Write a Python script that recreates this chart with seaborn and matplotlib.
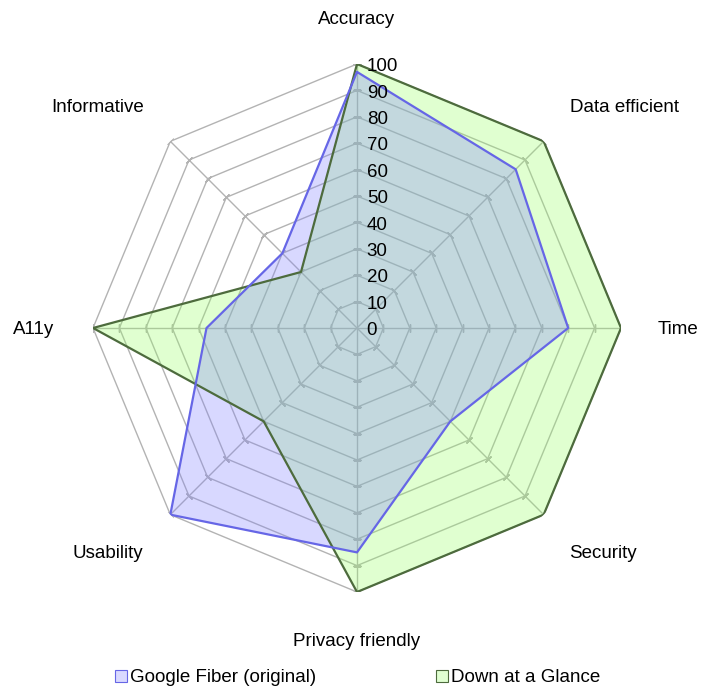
import numpy as np
import matplotlib
matplotlib.use("Agg")
import matplotlib.pyplot as plt
import seaborn as sns
from matplotlib.patches import Patch

sns.set_theme(style="white")
plt.rcParams['font.family'] = ['Liberation Sans', 'DejaVu Sans']

categories = ['Accuracy', 'Data efficient', 'Time', 'Security',
              'Privacy friendly', 'Usability', 'A11y', 'Informative']
google_fiber = [97, 85, 80, 50, 85, 100, 57, 40]
down_glance = [100, 100, 100, 100, 100, 50, 100, 30]
series_names = ['Google Fiber (original)', 'Down at a Glance']
levels = list(range(0, 101, 10))

FS = 13.5
W, H = 720, 695
fig = plt.figure(figsize=(W / 100, H / 100), dpi=100)
cx, cy, R = 357, 328, 264
ax = fig.add_axes([(cx - R) / W, (H - cy - R) / H, 2 * R / W, 2 * R / H], polar=True)
ax.set_theta_offset(np.pi / 2)
ax.set_theta_direction(-1)
ax.set_ylim(0, 100)
ax.grid(False)
ax.spines['polar'].set_visible(False)
ax.set_xticks([])
ax.set_yticks([])
ax.patch.set_alpha(0)

n = len(categories)
angles = np.linspace(0, 2 * np.pi, n, endpoint=False)
closed = np.concatenate([angles, angles[:1]])

grid_c = '#b3b3b3'
for lv in levels[1:]:
    ax.plot(closed, [lv] * (n + 1), color=grid_c, lw=1.0, zorder=1)
for a in angles:
    ax.plot([a, a], [0, 100], color=grid_c, lw=1.0, zorder=1)
    rot = 90 - np.degrees(a)
    ax.plot([a] * len(levels[1:]), levels[1:], ls='none', marker=(2, 2, rot),
            markersize=6, markeredgecolor=grid_c, markeredgewidth=1.0, zorder=1)

df = {
    series_names[0]: google_fiber,
    series_names[1]: down_glance,
}
styles = {
    series_names[1]: dict(fill='#99ff66', line='#4d6b3d'),
    series_names[0]: dict(fill='#8080ff', line='#6666e6'),
}
for name in [series_names[1], series_names[0]]:
    vals = np.array(df[name] + df[name][:1], dtype=float)
    ax.fill(closed, vals, color=styles[name]['fill'], alpha=0.3, zorder=2, lw=0)
for name in [series_names[1], series_names[0]]:
    vals = np.array(df[name] + df[name][:1], dtype=float)
    ax.plot(closed, vals, color=styles[name]['line'], lw=1.6, zorder=3)

for lv in levels:
    ax.annotate(str(lv), xy=(0, lv), xytext=(7, -2), textcoords='offset points',
                ha='left', va='center', fontsize=FS, color='black', zorder=4)

label_pos = [(357, 19), (625, 107), (678, 330), (603, 553),
             (357, 641), (108, 553), (34, 330), (98, 107)]
for lab, (x, y) in zip(categories, label_pos):
    fig.text(x / W, 1 - y / H, lab, ha='center', va='center', fontsize=FS, color='black')

handles = [Patch(facecolor='#d9d9ff', edgecolor='#6666e6', lw=0.8),
           Patch(facecolor='#e0ffd1', edgecolor='#4d6b3d', lw=0.8)]
fig.legend(handles, series_names, loc='center left', bbox_to_anchor=(115 / W, 1 - 678 / H),
           ncol=2, frameon=False, fontsize=FS, handlelength=0.65, handleheight=0.65,
           handletextpad=0.15, columnspacing=6.4, borderpad=0, borderaxespad=0,
           labelcolor='black')

fig.savefig('out.png', dpi=100)
